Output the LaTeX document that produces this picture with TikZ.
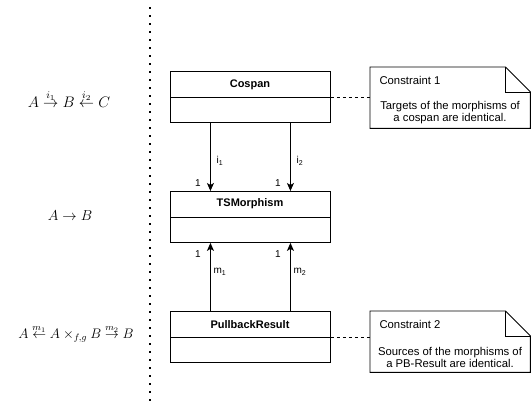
\documentclass[tikz,border=0pt]{standalone}
\usepackage{amsmath}
\usepackage{graphicx}
\usepackage{fontspec}
\setmainfont{Liberation Sans}
\usetikzlibrary{arrows.meta}
\begin{document}
\begin{tikzpicture}[x=1pt,y=-1pt,
  umlbox/.style={draw,line width=0.9pt,minimum width=160pt,minimum height=51pt,anchor=north west,inner sep=0pt},
  umltitle/.style={font=\fontsize{11}{13}\selectfont\bfseries},
  notebox/.style={minimum width=160pt,anchor=north west,inner sep=0pt},
  notetxt/.style={font=\fontsize{11.3}{13}\selectfont},
  lbl/.style={font=\fontsize{10}{12}\selectfont,inner sep=0pt},
  arr/.style={line width=0.9pt,-{Stealth[length=8pt,width=7pt,inset=2pt]}},
  mathlbl/.style={inner sep=0pt,font=\fontsize{12}{14}\selectfont}]
\useasboundingbox (0,0) rectangle (531,403);
% dotted separator
\coordinate (dtop) at (150,7.5);
\coordinate (dbot) at (150,403);
\draw[line width=1.6pt,dash pattern=on 1.6pt off 6.4pt] (dtop) -- (dbot);
% math labels
\node[mathlbl] (f1) at (69,99) {\scalebox{1.27}{$A \overset{i_1}{\to} B \overset{i_2}{\leftarrow} C$}};
\node[mathlbl] (f2) at (70,216) {\scalebox{1.2}{$A \to B$}};
\node[mathlbl] (f3) at (76,334) {\scalebox{1.15}{$A \overset{m_1}{\leftarrow} A \times_{f,g} B \overset{m_2}{\to} B$}};
% classes
\node[umlbox] (cospan) at (170,71.5) {};
\node[umltitle] (cospant) at (250,84.5) {Cospan};
\draw[line width=0.9pt] (cospan.west |- 0,97.5) -- (cospan.east |- 0,97.5);
\node[umlbox] (tsm) at (170,191) {};
\node[umltitle] (tsmt) at (250,204) {TSMorphism};
\draw[line width=0.9pt] (tsm.west |- 0,217) -- (tsm.east |- 0,217);
\node[umlbox] (pbr) at (170,311.5) {};
\node[umltitle] (pbrt) at (250,324.5) {PullbackResult};
\draw[line width=0.9pt] (pbr.west |- 0,337.5) -- (pbr.east |- 0,337.5);
% associations
\draw[arr] ([xshift=-40pt]cospan.south) -- ([xshift=-40pt]tsm.north);
\draw[arr] ([xshift=40pt]cospan.south) -- ([xshift=40pt]tsm.north);
\draw[arr] ([xshift=-40pt]pbr.north) -- ([xshift=-40pt]tsm.south);
\draw[arr] ([xshift=40pt]pbr.north) -- ([xshift=40pt]tsm.south);
\node[lbl] (li1) at (220,161) {i\textsubscript{1}};
\node[lbl] (li2) at (300,161) {i\textsubscript{2}};
\node[lbl] (c1) at (198,183) {1};
\node[lbl] (c2) at (278,183) {1};
\node[lbl] (c3) at (198,254) {1};
\node[lbl] (c4) at (278,254) {1};
\node[lbl] (lm1) at (220,272) {m\textsubscript{1}};
\node[lbl] (lm2) at (300,272) {m\textsubscript{2}};
% notes
\node[notebox,minimum height=61pt] (n1) at (370,67) {};
\draw[line width=0.9pt] (n1.north west) -- ([xshift=-25pt]n1.north east) -- ([yshift=-25pt]n1.north east) -- (n1.south east) -- (n1.south west) -- cycle;
\draw[line width=0.9pt] ([xshift=-25pt]n1.north east) -- ([xshift=-25pt,yshift=-25pt]n1.north east) -- ([yshift=-25pt]n1.north east);
\node[notetxt,anchor=west] (n1h) at (376,80) {Constraint 1};
\node[notetxt,align=center] (n1b) at (450,113) {Targets of the morphisms of\\[-1pt]a cospan are identical.};
\draw[line width=0.9pt,dashed,dash pattern=on 3pt off 3pt] (cospan.east |- 0,97.5) -- (n1.west |- 0,97.5);
\node[notebox,minimum height=61pt] (n2) at (370,311) {};
\draw[line width=0.9pt] (n2.north west) -- ([xshift=-25pt]n2.north east) -- ([yshift=-25pt]n2.north east) -- (n2.south east) -- (n2.south west) -- cycle;
\draw[line width=0.9pt] ([xshift=-25pt]n2.north east) -- ([xshift=-25pt,yshift=-25pt]n2.north east) -- ([yshift=-25pt]n2.north east);
\node[notetxt,anchor=west] (n2h) at (376,324) {Constraint 2};
\node[notetxt,align=center] (n2b) at (450,357) {Sources of the morphisms of\\[-1pt]a PB-Result are identical.};
\draw[line width=0.9pt,dashed,dash pattern=on 3pt off 3pt] (pbr.east |- 0,337.5) -- (n2.west |- 0,337.5);
\end{tikzpicture}
\end{document}
